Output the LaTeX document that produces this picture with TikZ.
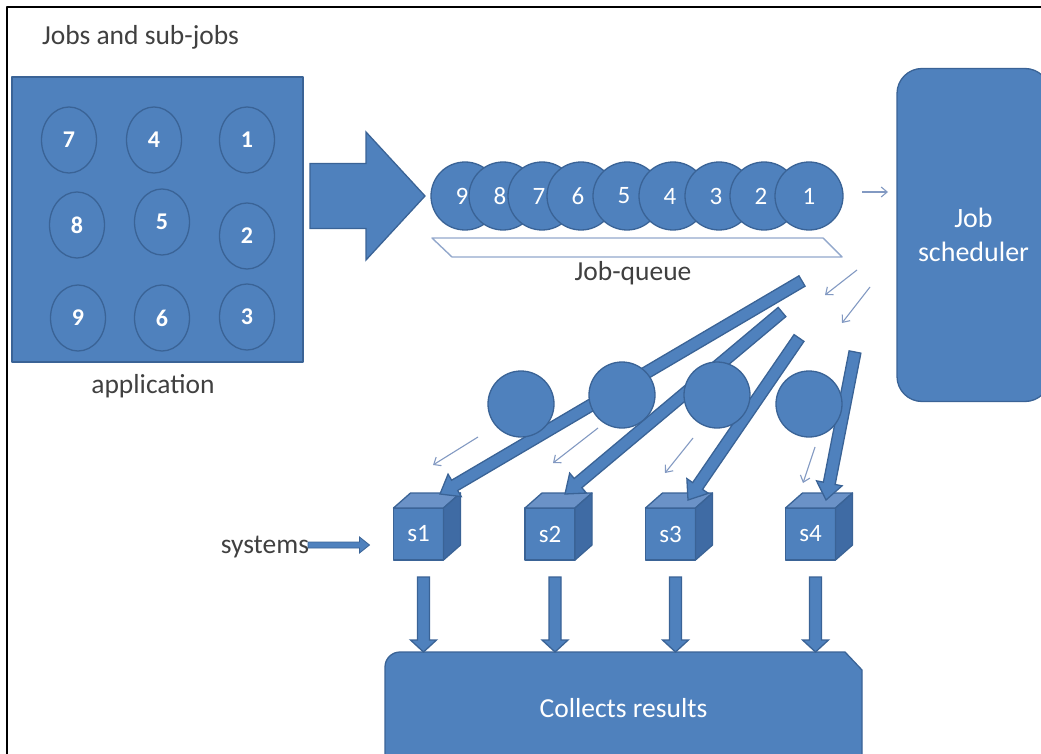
\documentclass[tikz,border=0pt]{standalone}
\usepackage{fontspec}
\setmainfont{Carlito}
\usetikzlibrary{calc,shapes.geometric,arrows.meta,backgrounds}

\definecolor{boxblue}{HTML}{4F81BD}
\definecolor{edgeblue}{HTML}{3A6396}
\definecolor{topblue}{HTML}{6B92C7}
\definecolor{sideblue}{HTML}{3F6BA4}
\definecolor{thinblue}{HTML}{8299C2}
\definecolor{labelgray}{HTML}{404040}
\definecolor{queueline}{HTML}{93A8CC}

% block arrow: style, tail, tip, shaft half-width, head half-width, head length
\newcommand{\blockarrow}[6]{%
  \coordinate (bhead) at ($(#3)!#6!(#2)$);
  \draw[#1] ($(#2)!#4!90:(#3)$) -- ($(bhead)!#4!90:(#3)$) -- ($(bhead)!#5!90:(#3)$) -- (#3)
    -- ($(bhead)!#5!-90:(#3)$) -- ($(bhead)!#4!-90:(#3)$) -- ($(#2)!#4!-90:(#3)$) -- cycle;
}
% queue digits sit a little left of their circle's centre
\newcommand{\qdigit}[1]{\hspace*{-6pt}#1}

\tikzset{
  every node/.style={inner sep=0pt, outer sep=0pt},
  blueshape/.style={fill=boxblue, draw=edgeblue, line width=1.3pt},
  job/.style={blueshape, ellipse, minimum width=55pt, minimum height=66pt,
    text=white, font=\fontsize{24}{28}\selectfont\bfseries},
  queued/.style={blueshape, circle, minimum size=68pt,
    text=white, font=\fontsize{25}{30}\selectfont},
  task/.style={blueshape, circle, minimum size=66pt},
  cubefront/.style={blueshape, minimum width=50pt, minimum height=52pt,
    text=white, font=\fontsize{25}{30}\selectfont},
  label/.style={text=labelgray, font=\fontsize{27.5}{32}\selectfont},
  thinarrow/.style={draw=thinblue, line width=1.1pt, -{Straight Barb[length=6pt,width=10pt]}},
  bigarrow/.style={blueshape, line join=miter},
}

\begin{document}
\begin{tikzpicture}[x=1pt, y=-1pt, line join=round]
\useasboundingbox (0,0) rectangle (1041,754);
\clip (0,0) rectangle (1041,754);

% frame
\draw[line width=2pt] (7,760) -- (7,7) -- (1045,7);

% application with its jobs
\node[label, anchor=base west] (title) at (42,45) {Jobs and sub-jobs};
\node[blueshape, minimum width=291pt, minimum height=285pt] (app) at (157.5,219.5) {};
\node[job] (e7) at (69,140) {7};
\node[job] (e4) at (154,140) {4};
\node[job] (e1) at (247,140) {1};
\node[job] (e8) at (77,225) {8};
\node[job] (e5) at (162,222) {5};
\node[job] (e2) at (247,236) {2};
\node[job] (e9) at (78,318) {9};
\node[job] (e6) at (162,318) {6};
\node[job] (e3) at (247,317) {3};
\node[label, anchor=base] (applabel) at (153,393) {application};

% big arrow into the queue
\coordinate (bigtail) at (310,196);
\coordinate (bigtip) at (425,196);
\blockarrow{bigarrow}{bigtail}{bigtip}{32.5pt}{64pt}{59pt}

% job queue
\draw[queueline, line width=1.4pt, fill=white] (432,238) -- (823,238) -- (842,257) -- (452,257) -- cycle;
\node[queued] (q9) at (465,196) {\qdigit{9}};
\node[queued] (q8) at (503,196) {\qdigit{8}};
\node[queued] (q7) at (542,196) {\qdigit{7}};
\node[queued] (q6) at (581,196) {\qdigit{6}};
\node[queued] (q5) at (627,196) {\qdigit{5}};
\node[queued] (q4) at (673,196) {\qdigit{4}};
\node[queued] (q3) at (719,196) {\qdigit{3}};
\node[queued] (q2) at (764,196) {\qdigit{2}};
\node[queued] (q1) at (809,196) {1};
\node[label, anchor=base] (qlabel) at (633,280) {Job-queue};

% job scheduler
\node[blueshape, rounded corners=25pt, minimum width=153pt, minimum height=333pt,
  text=white, align=center, font=\fontsize{28}{34}\selectfont] (sched) at (973.5,235) {Job\\scheduler};
\coordinate (qa) at ($(q1.east)+(19,-4)$);
\draw[thinarrow, shorten >=9pt] (qa) -- (qa -| sched.west);

% dispatch hints from the scheduler
\coordinate (h1a) at (857,270); \coordinate (h1b) at (825,295);
\coordinate (h2a) at (870,287); \coordinate (h2b) at (842,323);
\draw[thinarrow] (h1a) -- (h1b);
\draw[thinarrow] (h2a) -- (h2b);

% systems
\node[cubefront] (s1) at (418.5,534) {s1};
\node[cubefront] (s2) at (550,534) {s2};
\node[cubefront] (s3) at (670.5,534) {s3};
\node[cubefront] (s4) at (810.5,534) {s4};
\foreach \s in {s1,s2,s3,s4}{
  \draw[fill=topblue, draw=edgeblue, line width=1.3pt]
    (\s.north west) -- ++(17,-15) -- ++(50,0) -- (\s.north east) -- cycle;
  \draw[fill=sideblue, draw=edgeblue, line width=1.3pt]
    (\s.north east) -- ++(17,-15) -- ++(0,52) -- (\s.south east) -- cycle;
}

% sub-jobs sent to the systems
\coordinate (j1) at (802,281);
\coordinate (j2) at (782,312);
\coordinate (j3) at (799,338);
\coordinate (j4) at (855,352);
\coordinate (t1) at ($(s1.north)+(21.5,-14)$);
\coordinate (t2) at ($(s2.north)+(15,-14)$);
\coordinate (t3) at ($(s3.north)+(17.5,-8)$);
\coordinate (t4) at ($(s4.north)+(15.5,-8)$);
\blockarrow{bigarrow}{j1}{t1}{6pt}{13pt}{17pt}
\blockarrow{bigarrow}{j2}{t2}{6pt}{13pt}{17pt}
\blockarrow{bigarrow}{j3}{t3}{6pt}{13pt}{17pt}
\blockarrow{bigarrow}{j4}{t4}{6pt}{13pt}{17pt}

% sub-jobs in transit
\node[task] (c1) at (521,404) {};
\node[task] (c2) at (622,395) {};
\node[task] (c3) at (717,395) {};
\node[task] (c4) at (809,404) {};
\coordinate (m1a) at (478,437); \coordinate (m1b) at (433,465);
\coordinate (m2a) at (598,428); \coordinate (m2b) at (553,463);
\coordinate (m3a) at (693,438); \coordinate (m3b) at (665,473);
\coordinate (m4a) at (815,447); \coordinate (m4b) at (803,483);
\draw[thinarrow] (m1a) -- (m1b);
\draw[thinarrow] (m2a) -- (m2b);
\draw[thinarrow] (m3a) -- (m3b);
\draw[thinarrow] (m4a) -- (m4b);

% systems label
\node[label, anchor=base east] (systems) at (309,553) {systems};
\coordinate (sysa) at ($(systems.base east)+(-1,-8)$);
\coordinate (sysb) at ($(s1.west)+(-24,11)$);
\blockarrow{bigarrow, line width=0.8pt}{sysa}{sysb}{3pt}{8pt}{10pt}

% result collection
\node[anchor=north west, minimum width=477pt, minimum height=112pt,
  text=white, font=\fontsize{27.5}{32}\selectfont] (collect) at (385,652) {Collects results};
\begin{scope}[on background layer]
  \draw[blueshape] ($(collect.south west)+(0,20)$) [rounded corners=15pt] -- (collect.north west)
    [sharp corners] -- ([xshift=-17pt]collect.north east) -- ([yshift=-18pt]collect.north east)
    -- ($(collect.south east)+(0,20)$) -- cycle;
\end{scope}
\foreach \s in {s1,s2,s3,s4}{
  \coordinate (\s o) at ($(\s.south)+(5,17)$);
  \coordinate (\s i) at (\s o |- collect.north);
  \blockarrow{bigarrow}{\s o}{\s i}{6pt}{13pt}{12pt}
}
\end{tikzpicture}
\end{document}
